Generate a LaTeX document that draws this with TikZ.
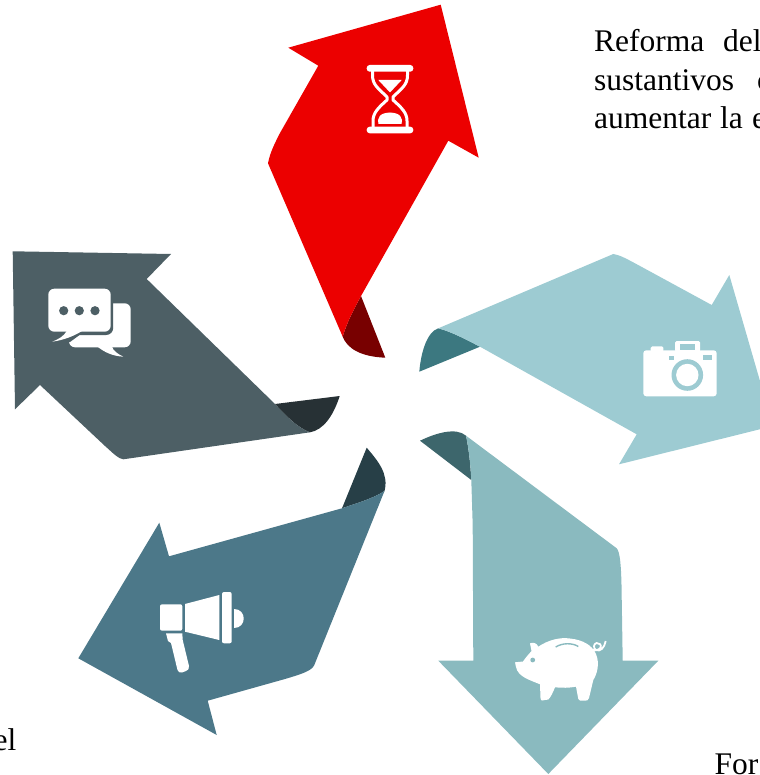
\documentclass[tikz,border=0pt]{standalone}
\usepackage{fontspec}
\setmainfont{Liberation Serif}
\definecolor{cRed}{HTML}{EC0000}\definecolor{cRedD}{HTML}{780000}
\definecolor{cGrey}{HTML}{4D5F65}\definecolor{cGreyD}{HTML}{273135}
\definecolor{cLight}{HTML}{9DCBD2}\definecolor{cLightD}{HTML}{3C7880}
\definecolor{cMid}{HTML}{8ABABF}\definecolor{cMidD}{HTML}{3D666C}
\definecolor{cBlue}{HTML}{4C7889}\definecolor{cBlueD}{HTML}{273F47}
\tikzset{
 bodytext/.style={anchor=base west,inner sep=0pt,font=\fontsize{31.5}{36}\selectfont,text=black},
 icon/.style={fill=white,draw=none},
}
\begin{document}
\begin{tikzpicture}[x=1pt,y=-1pt,line join=round]
\useasboundingbox (0,0) rectangle (759,775);
% red arrow
\fill[cRedD] (361,296) -- (385.3,357.7) .. controls (360,356.7) and (347,348) .. (342.7,336.7) .. controls (347,322) and (354,309) .. (361,296) -- cycle;
\fill[cRed] (288.3,47.7) -- (440.7,4.7) -- (478.7,157.7) -- (448.3,140.7) -- (361,296) .. controls (354,309) and (347,322) .. (342.7,336.7) -- (268,163.3) .. controls (270,152) and (276,141) .. (280,133) -- (318.3,65.7) -- cycle;
% grey arrow
\fill[cGreyD] (275,404) -- (339.7,396) .. controls (333,416.7) and (323,430) .. (310,432.3) .. controls (298,428) and (286,416) .. (275,404) -- cycle;
\fill[cGrey] (12.7,251.3) -- (171,254) -- (146.7,279) -- (275,404) .. controls (286,416) and (298,428) .. (310,432.3) -- (123.3,459.3) .. controls (118,458.5) and (114,454) .. (105,446) -- (40,385) -- (15,409.3) -- cycle;
% light teal arrow
\fill[cLightD] (438.3,328.3) .. controls (427,332) and (421,352) .. (419.3,371.7) -- (480,346.7) .. controls (465,339) and (452,332) .. (438.3,328.3) -- cycle;
\fill[cLight] (438.3,328.3) -- (613.3,254) .. controls (620,255) and (627,259) .. (640,266) -- (711.7,305) -- (729.3,275) -- (773,426) -- (619,464.3) -- (636.7,434.3) -- (480,346.7) .. controls (465,339) and (452,332) .. (438.3,328.3) -- cycle;
% mid teal arrow
\fill[cMidD] (420,440.7) .. controls (436,433) and (456,427) .. (466,435.7) .. controls (469,450) and (470.5,465) .. (471.3,480) -- cycle;
\fill[cMid] (466,435.7) -- (616.7,548.3) .. controls (620,552) and (621,565) .. (621.5,585) -- (622.7,660.7) -- (658.3,660.7) -- (548.3,774) -- (438.3,660.7) -- (473.3,660.7) -- (472.7,525) -- (471.3,480) .. controls (470.5,465) and (469,450) .. (466,435.7) -- cycle;
% blue arrow
\fill[cBlueD] (366.7,447.7) .. controls (378,461) and (389,474) .. (384.5,491) .. controls (372,499) and (357,503) .. (342,508.3) -- cycle;
\fill[cBlue] (384.5,491) .. controls (372,499) and (357,503) .. (342,508.3) -- (169,556.3) -- (159.3,522.7) -- (78.3,658.3) -- (216.7,735) -- (207.7,700.7) -- (285,679) .. controls (300,674.5) and (312,671) .. (314.3,665) -- cycle;
% hourglass
\fill[icon,rounded corners=3pt] (366.7,65) rectangle (413.3,71.7);
\fill[icon,rounded corners=3pt] (366.7,126.7) rectangle (413.3,133.3);
\draw[white,line width=3pt] (372.5,70) -- (372.5,75) .. controls (372.5,85) and (378,88) .. (387,97) -- (387,100) .. controls (378,108) and (373,113) .. (373,121) -- (373,128);
\draw[white,line width=3pt] (407.5,70) -- (407.5,75) .. controls (407.5,85) and (402,88) .. (393,97) -- (393,100) .. controls (402,108) and (407,113) .. (407,121) -- (407,128);
\fill[white] (378.3,80) -- (401.7,80) -- (390,92.5) -- cycle;
\fill[white] (378.5,124) .. controls (377,117) and (380,113) .. (390,112.5) .. controls (400,113) and (403,117) .. (401.5,124) -- cycle;
% chat
\fill[icon,rounded corners=6pt] (69,303.3) rectangle (130.7,347.3);
\fill[icon] (96.7,346) -- (111.7,346) .. controls (113,351) and (118,354) .. (123.3,356.7) .. controls (112,356) and (104,352) .. (96.7,346) -- cycle;
\fill[cGrey,rounded corners=7pt] (46,286.5) rectangle (113.2,335);
\fill[cGrey] (49,345) -- (70,331) -- (85,331) -- (70,342) -- cycle;
\fill[icon,rounded corners=6pt] (48.3,288.7) rectangle (110.7,331.7);
\fill[icon] (66.7,331) -- (82,331) .. controls (74,336) and (64,340) .. (52.3,341.7) .. controls (59,339) and (64,336) .. (66.7,331) -- cycle;
\foreach \cx in {63.7,79.3,95}{\fill[cGrey] (\cx,310.7) circle (4.6);}
% camera
\fill[icon,rounded corners=3pt] (643.3,350.3) rectangle (716.7,396.3);
\fill[icon,rounded corners=1.5pt] (650.7,346.3) rectangle (663.3,352);
\fill[icon,rounded corners=1.5pt] (675,341) rectangle (700,352);
\fill[cLight] (680,343.5) rectangle (695,350.3);
\fill[cLight] (669.3,356) rectangle (674,359.7);
\fill[cLight] (703.3,355.3) rectangle (712,359.7);
\fill[cLight] (687.3,375) circle (15.8);
\fill[white] (687.3,375) circle (11.2);
% piggy
\fill[icon] (530,643.3) .. controls (533,642) and (537,643) .. (538.3,646.7) .. controls (548,640) and (560,637) .. (570,638.5) .. controls (583,640) and (592,645) .. (596,654) .. controls (600,664) and (597,674) .. (593.3,680) -- (589,698) .. controls (588,700.5) and (587,700.5) .. (586,700.5) -- (580,700.5) .. controls (579,700.5) and (578.5,700) .. (578.3,699) -- (576,686.7) .. controls (569,688) and (562,688) .. (555,687.3) .. controls (553,692) and (551,697) .. (548.3,699.5) -- (542,700.5) .. controls (541,700.5) and (540.5,699) .. (540.5,698) -- (540,684.3) .. controls (530,680) and (518,677) .. (516,667) -- (515,662.3) -- (523,661.5) .. controls (526,657) and (529,654) .. (531.5,651) -- cycle;
\fill[cMid] (532.7,660) circle (2.4);
\draw[cMid,line width=1.4pt] (555.7,647) .. controls (562,643) and (572,642.5) .. (578.3,646.5);
\draw[white,line width=1.8pt] (593,650) .. controls (595,651) and (599,650) .. (600.5,647.5) .. controls (602,645) and (599,642.5) .. (596.5,643) .. controls (593.5,644) and (593,648) .. (596,650) .. controls (600,652) and (604.5,648) .. (605.7,641);
% megaphone
\fill[icon,rounded corners=2pt] (160,604.3) rectangle (182.3,630.7);
\fill[icon] (185,604) -- (219.3,595) -- (219.3,640) -- (185,631.7) -- cycle;
\fill[icon,rounded corners=2pt] (222,592) rectangle (231.7,643.3);
\fill[icon] (234,609.3) .. controls (247,609.3) and (247,628) .. (234,628) -- cycle;
\fill[icon] (166,633.3) -- (182.3,633.3) -- (182.7,640) -- (189,666) .. controls (189.5,669) and (188,670) .. (186,671) -- (182,672.5) .. controls (180,673) and (178,672) .. (177.5,670) -- (171,643) -- (168,641) -- cycle;
% text
\node[bodytext] (t1a) at (594,52) {Reforma};
\node[bodytext] (t1b) at (723,52) {del};
\node[bodytext] (t2a) at (594,90.5) {sustantivos};
\node[bodytext] (t2b) at (757,90.5) {c};
\node[bodytext] (t3a) at (594,129) {aumentar};
\node[bodytext] (t3c) at (720,129) {la};
\node[bodytext] (t3b) at (752,129) {e};
\node[bodytext] (t4) at (714.5,774) {For};
\node[bodytext,anchor=base east] (t5) at (16.5,750) {el};
\end{tikzpicture}
\end{document}
